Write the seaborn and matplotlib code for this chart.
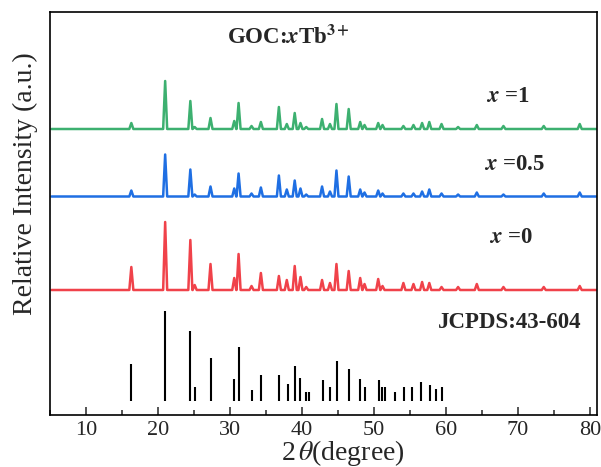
import numpy as np
import pandas as pd
import matplotlib
matplotlib.use("Agg")
import matplotlib.pyplot as plt
import seaborn as sns
from matplotlib.ticker import MultipleLocator

# ---- data ----
peak_pos = [16.3, 21.0, 24.5, 25.1, 27.3, 30.6, 31.2, 33.0, 34.3, 36.8, 37.9, 39.0,
            39.8, 40.6, 42.8, 43.9, 44.8, 46.5, 48.1, 48.7, 50.6, 51.2, 54.1, 55.5,
            56.7, 57.7, 59.4, 61.7, 64.3, 68.0, 73.6, 78.6]
h_x1 = [6, 48, 28, 2, 11, 8, 26, 3, 7, 22, 5, 16, 6, 2, 10, 5, 25, 20, 7, 4, 6, 4,
        3, 4, 6, 7, 5, 2, 4, 3, 3, 5]
h_x05 = [6, 42, 27, 2, 10, 8, 23, 3, 9, 21, 7, 16, 8, 2, 10, 5, 26, 20, 7, 4, 6, 3,
         3, 3, 5, 7, 3, 2, 4, 2, 3, 4]
h_x0 = [23, 68, 50, 5, 26, 12, 36, 4, 17, 14, 10, 24, 13, 3, 10, 7, 26, 19, 12, 6, 11, 4,
        7, 6, 8, 7, 3, 3, 6, 3, 3, 4]
series_labels = ["x =1", "x =0.5", "x =0"]

# JCPDS 43-604 reference lines
ref_pos = [16.3, 21.0, 24.5, 25.15, 27.3, 30.6, 31.24, 33.0, 34.3, 36.8, 38.0, 39.1,
           39.7, 40.5, 41.0, 42.9, 43.9, 44.9, 46.5, 48.1, 48.8, 50.7, 51.1, 51.5,
           53.0, 54.2, 55.3, 56.6, 57.8, 58.6, 59.5]
ref_int = [37, 90, 70, 14, 43, 22, 54, 11, 26, 26, 17, 35, 23, 9, 9, 21, 14, 40, 32,
           22, 14, 21, 14, 14, 9, 14, 14, 19, 16, 12, 14]

xticks = [10, 20, 30, 40, 50, 60, 70, 80]

# ---- style / layout ----
sns.set_style("white")
plt.rcParams["font.family"] = ["Liberation Serif", "DejaVu Serif"]
plt.rcParams["mathtext.fontset"] = "stix"

colors = ["#3DB070", "#1F6FE3", "#F0424A"]
offsets = [286, 218.5, 125]
stick_base = 14.3
half_w = 0.28
x_start, x_end = 5.2, 80.9


def pattern(heights):
    xs, ys = [x_start], [0.0]
    for p, h in zip(peak_pos, heights):
        xs += [p - half_w, p, p + half_w]
        ys += [0.0, h, 0.0]
    xs.append(x_end)
    ys.append(0.0)
    return xs, ys


fig = plt.figure(figsize=(6.01, 4.67), dpi=100)
ax = fig.add_axes([50 / 601, 1 - 415 / 467, (597 - 50) / 601, (415 - 12) / 467])

for heights, off, col in zip([h_x1, h_x05, h_x0], offsets, colors):
    xs, ys = pattern(heights)
    df = pd.DataFrame({"two_theta": xs, "I": np.array(ys) + off})
    sns.lineplot(data=df, x="two_theta", y="I", color=col, lw=1.8,
                 estimator=None, sort=False, ax=ax)

ax.vlines(ref_pos, stick_base, stick_base + np.array(ref_int), color="black", lw=1.5)

ax.set_xlim(5, 81)
ax.set_ylim(0, 403)
ax.set_xticks(xticks)
ax.xaxis.set_minor_locator(MultipleLocator(5))
ax.set_yticks([])
ax.set_xlabel("")
ax.set_ylabel("")
ax.tick_params(axis="x", which="major", direction="in", length=6, width=1.1,
               labelsize=16, pad=4, bottom=True)
ax.tick_params(axis="x", which="minor", direction="in", length=3.5, width=1.1, bottom=True)
for s in ax.spines.values():
    s.set_visible(True)
    s.set_linewidth(1.2)
    s.set_color("black")

txt_kw = dict(fontsize=16.5, fontweight="bold", ha="center", va="center")
ax.text(38.1, 378, r"GOC:$\mathbfit{x}$Tb$^{\mathbf{3+}}$", **txt_kw)
ax.text(68.6, 319, r"$\mathbfit{x}$ =1", **txt_kw)
ax.text(69.6, 251, r"$\mathbfit{x}$ =0.5", **txt_kw)
ax.text(69.1, 178, r"$\mathbfit{x}$ =0", **txt_kw)
ax.text(68.8, 92, "JCPDS:43-604", **txt_kw)

fig.text(343 / 601, 1 - 453 / 467, r"2$\,\theta$(degree)", fontsize=20, ha="center", va="center")
fig.text(25 / 601, 1 - 184 / 467, "Relative Intensity (a.u.)", fontsize=20,
         rotation=90, ha="center", va="center")

fig.savefig("out.png", dpi=100)
